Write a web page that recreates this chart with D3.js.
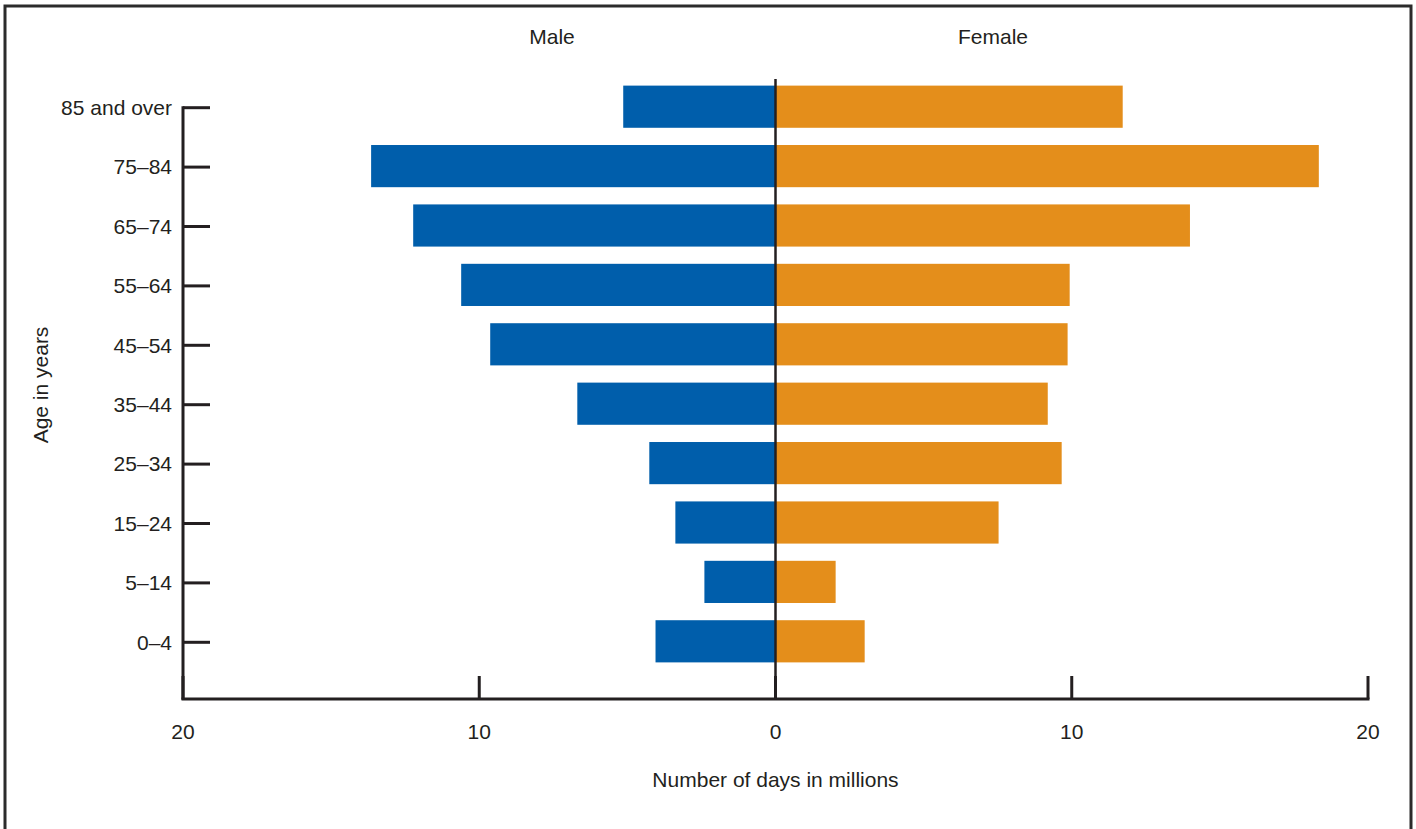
<!DOCTYPE html>
<html>
<head>
	<meta charset="utf-8">
	<script src="https://cdn.jsdelivr.net/npm/d3@7"></script>
	<style type="text/css">
		body { margin: 0; padding: 0; background: #fff; }
		text { font-family: "Liberation Sans", Arial, Helvetica, sans-serif; fill: #231f20; font-size: 21px; }
	</style>
</head>
<body>
	<script type="text/javascript">

		// data, top to bottom
		var ages = ["85 and over", "75–84", "65–74", "55–64", "45–54", "35–44", "25–34", "15–24", "5–14", "0–4"];
		var male = [5.14, 13.65, 12.23, 10.61, 9.63, 6.69, 4.26, 3.38, 2.40, 4.05];
		var female = [11.72, 18.34, 13.99, 9.93, 9.86, 9.19, 9.66, 7.53, 2.03, 3.01];
		var xTicks = [-20, -10, 0, 10, 20];

		var W = 1416, H = 829;
		var svg = d3.select("body").append("svg")
			.attr("width", W)
			.attr("height", H);

		// frame (no bottom edge visible)
		svg.append("path")
			.attr("d", "M5,829 V6 H1411 V829")
			.attr("fill", "none")
			.attr("stroke", "#2b2b2b")
			.attr("stroke-width", 3);

		var x = d3.scaleLinear().domain([-20, 20]).range([183, 1368]);
		var y = d3.scaleBand().domain(ages).range([77, 671]).paddingInner(0.29).paddingOuter(0.145);

		// bars
		svg.selectAll("rect.male").data(ages).enter().append("rect")
			.attr("class", "male")
			.attr("x", function(d, i){ return x(-male[i]); })
			.attr("y", function(d){ return y(d); })
			.attr("width", function(d, i){ return x(0) - x(-male[i]); })
			.attr("height", y.bandwidth())
			.attr("fill", "#005eab");

		svg.selectAll("rect.female").data(ages).enter().append("rect")
			.attr("class", "female")
			.attr("x", x(0))
			.attr("y", function(d){ return y(d); })
			.attr("width", function(d, i){ return x(female[i]) - x(0); })
			.attr("height", y.bandwidth())
			.attr("fill", "#e48e1b");

		var axisColor = "#231f20";
		var yMid = function(d){ return y(d) + y.bandwidth() / 2 + 1; };

		// left axis
		svg.append("line")
			.attr("x1", x(-20)).attr("x2", x(-20))
			.attr("y1", yMid(ages[0]) - 1.5).attr("y2", 700)
			.attr("stroke", axisColor).attr("stroke-width", 3);

		svg.selectAll("line.ytick").data(ages).enter().append("line")
			.attr("class", "ytick")
			.attr("x1", x(-20)).attr("x2", x(-20) + 27)
			.attr("y1", yMid).attr("y2", yMid)
			.attr("stroke", axisColor).attr("stroke-width", 3);

		svg.selectAll("text.ylab").data(ages).enter().append("text")
			.attr("class", "ylab")
			.attr("x", 172)
			.attr("y", yMid)
			.attr("dy", "0.35em")
			.attr("text-anchor", "end")
			.text(function(d){ return d; });

		// bottom axis
		svg.append("line")
			.attr("x1", x(-20) - 1.5).attr("x2", x(20) + 1.5)
			.attr("y1", 699).attr("y2", 699)
			.attr("stroke", axisColor).attr("stroke-width", 3);

		svg.selectAll("line.xtick").data(xTicks).enter().append("line")
			.attr("class", "xtick")
			.attr("x1", function(d){ return x(d); }).attr("x2", function(d){ return x(d); })
			.attr("y1", 676).attr("y2", 699)
			.attr("stroke", axisColor).attr("stroke-width", 3);

		svg.selectAll("text.xlab").data(xTicks).enter().append("text")
			.attr("class", "xlab")
			.attr("x", function(d){ return x(d); })
			.attr("y", 739)
			.attr("text-anchor", "middle")
			.text(function(d){ return Math.abs(d); });

		// zero line
		svg.append("line")
			.attr("x1", x(0)).attr("x2", x(0))
			.attr("y1", 79).attr("y2", 699)
			.attr("stroke", axisColor).attr("stroke-width", 2.5);

		// titles
		svg.append("text").attr("x", 552).attr("y", 44).attr("text-anchor", "middle").text("Male");
		svg.append("text").attr("x", 993).attr("y", 44).attr("text-anchor", "middle").text("Female");
		svg.append("text").attr("x", x(0)).attr("y", 787).attr("text-anchor", "middle").text("Number of days in millions");
		svg.append("text")
			.attr("transform", "translate(48,385) rotate(-90)")
			.attr("text-anchor", "middle")
			.text("Age in years");

	</script>
</body>
</html>
